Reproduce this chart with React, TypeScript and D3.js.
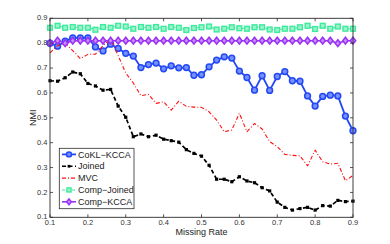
import React, { useEffect, useRef } from "react";
import * as d3 from "d3";

const missingRate = [
  0.1, 0.12, 0.14, 0.16, 0.18, 0.2, 0.22, 0.24, 0.26, 0.28, 0.3, 0.32, 0.34, 0.36,
  0.38, 0.4, 0.42, 0.44, 0.46, 0.48, 0.5, 0.52, 0.54, 0.56, 0.58, 0.6, 0.62, 0.64,
  0.66, 0.68, 0.7, 0.72, 0.74, 0.76, 0.78, 0.8, 0.82, 0.84, 0.86, 0.88, 0.9,
];

const coklKcca = [
  0.8, 0.788, 0.808, 0.821, 0.821, 0.821, 0.785, 0.769, 0.796, 0.779, 0.759, 0.748,
  0.702, 0.714, 0.72, 0.697, 0.709, 0.701, 0.702, 0.671, 0.673, 0.705, 0.732, 0.745,
  0.74, 0.688, 0.662, 0.611, 0.669, 0.61, 0.666, 0.686, 0.649, 0.647, 0.588, 0.547,
  0.586, 0.591, 0.588, 0.507, 0.448,
];

const joined = [
  0.649, 0.647, 0.661, 0.684, 0.677, 0.638, 0.628, 0.611, 0.614, 0.547, 0.502, 0.424,
  0.435, 0.424, 0.43, 0.414, 0.408, 0.402, 0.372, 0.357, 0.346, 0.309, 0.253, 0.253,
  0.243, 0.263, 0.246, 0.239, 0.219, 0.206, 0.161, 0.14, 0.129, 0.135, 0.14, 0.129,
  0.147, 0.145, 0.168, 0.163, 0.165,
];

const mvc = [
  0.761, 0.79, 0.8, 0.77, 0.738, 0.755, 0.756, 0.79, 0.818, 0.75, 0.68, 0.64, 0.589,
  0.594, 0.558, 0.564, 0.531, 0.567, 0.546, 0.543, 0.542, 0.524, 0.491, 0.444, 0.451,
  0.518, 0.444, 0.477, 0.455, 0.404, 0.384, 0.353, 0.349, 0.347, 0.307, 0.37, 0.323,
  0.314, 0.317, 0.247, 0.268,
];

const compJoined = [
  0.862, 0.87, 0.862, 0.865, 0.862, 0.862, 0.854, 0.865, 0.862, 0.87, 0.867, 0.858,
  0.865, 0.862, 0.865, 0.858, 0.865, 0.862, 0.853, 0.861, 0.864, 0.867, 0.855, 0.858,
  0.864, 0.86, 0.858, 0.864, 0.864, 0.855, 0.853, 0.858, 0.858, 0.864, 0.87, 0.857,
  0.87, 0.858, 0.867, 0.858, 0.858,
];

const compKcca = [
  0.8, 0.81, 0.8, 0.81, 0.81, 0.81, 0.81, 0.81, 0.81, 0.81, 0.81, 0.81, 0.81, 0.81,
  0.81, 0.81, 0.81, 0.81, 0.81, 0.81, 0.81, 0.81, 0.81, 0.81, 0.81, 0.81, 0.81, 0.81,
  0.81, 0.81, 0.81, 0.81, 0.81, 0.81, 0.81, 0.81, 0.81, 0.81, 0.8, 0.81, 0.81,
];

const tickValues = [0.1, 0.2, 0.3, 0.4, 0.5, 0.6, 0.7, 0.8, 0.9];

const seriesList = [
  { name: "CoKL\u2212KCCA", values: coklKcca, color: "#2448f5", fill: "#7590ff", width: 1.8, dash: null, marker: "circle" },
  { name: "Joined", values: joined, color: "#000000", fill: "#000", width: 1.7, dash: "4,2.5", marker: "smallsquare" },
  { name: "MVC", values: mvc, color: "#ff1010", fill: "none", width: 1.1, dash: "4,2,1,2", marker: "none" },
  { name: "Comp\u2212Joined", values: compJoined, color: "#3deb9c", fill: "#9af3cb", width: 1.1, dash: "3,2", marker: "square" },
  { name: "Comp\u2212KCCA", values: compKcca, color: "#9b30f5", fill: "#c691fa", width: 1.6, dash: null, marker: "diamond" },
];

function drawMarker(g, s, cx, cy, scale) {
  if (s.marker === "circle") {
    g.append("circle").attr("cx", cx).attr("cy", cy).attr("r", 2.9 * scale)
      .attr("fill", s.fill).attr("stroke", s.color).attr("stroke-width", 1.5);
  } else if (s.marker === "smallsquare") {
    const h = 1.6 * scale;
    g.append("rect").attr("x", cx - h).attr("y", cy - h).attr("width", 2 * h).attr("height", 2 * h)
      .attr("fill", s.color);
  } else if (s.marker === "square") {
    const h = 2.4 * scale;
    g.append("rect").attr("x", cx - h).attr("y", cy - h).attr("width", 2 * h).attr("height", 2 * h)
      .attr("fill", s.fill).attr("stroke", s.color).attr("stroke-width", 1.4);
  } else if (s.marker === "diamond") {
    const r = 3.4 * scale;
    g.append("path")
      .attr("d", `M${cx},${cy - r}L${cx + r * 0.8},${cy}L${cx},${cy + r}L${cx - r * 0.8},${cy}Z`)
      .attr("fill", s.fill).attr("stroke", s.color).attr("stroke-width", 1.5);
  }
}

function NmiChart() {
  const ref = useRef(null);

  useEffect(() => {
    const width = 390, height = 244;
    const left = 50, right = 353, top = 18.3, bottom = 217.3;
    const axisColor = "#2b2b2b";
    const font = "'Liberation Sans', Arial, sans-serif";

    const svg = d3.select(ref.current);
    svg.selectAll("*").remove();
    svg.attr("width", width).attr("height", height);

    const x = d3.scaleLinear().domain([0.1, 0.9]).range([left, right]);
    const y = d3.scaleLinear().domain([0.1, 0.9]).range([bottom, top]);

    svg.append("rect").attr("width", width).attr("height", height).attr("fill", "#fff");

    // series
    const line = d3.line()
      .x((d, i) => x(missingRate[i]))
      .y((d) => y(d));

    seriesList.forEach((s) => {
      const g = svg.append("g");
      g.append("path")
        .attr("d", line(s.values))
        .attr("fill", "none")
        .attr("stroke", s.color)
        .attr("stroke-width", s.width)
        .attr("stroke-dasharray", s.dash)
        .attr("stroke-linejoin", "round");
      s.values.forEach((v, i) => drawMarker(g, s, x(missingRate[i]), y(v), 1));
    });

    // box + ticks
    const ax = svg.append("g");
    ax.append("rect")
      .attr("x", left).attr("y", top)
      .attr("width", right - left).attr("height", bottom - top)
      .attr("fill", "none").attr("stroke", axisColor).attr("stroke-width", 0.9);

    tickValues.forEach((t) => {
      ax.append("line").attr("x1", x(t)).attr("x2", x(t)).attr("y1", bottom).attr("y2", bottom - 3)
        .attr("stroke", axisColor).attr("stroke-width", 0.8);
      ax.append("line").attr("x1", x(t)).attr("x2", x(t)).attr("y1", top).attr("y2", top + 3)
        .attr("stroke", axisColor).attr("stroke-width", 0.8);
      ax.append("line").attr("x1", left).attr("x2", left + 3).attr("y1", y(t)).attr("y2", y(t))
        .attr("stroke", axisColor).attr("stroke-width", 0.8);
      ax.append("line").attr("x1", right).attr("x2", right - 3).attr("y1", y(t)).attr("y2", y(t))
        .attr("stroke", axisColor).attr("stroke-width", 0.8);

      ax.append("text").attr("x", x(t)).attr("y", bottom + 7.6)
        .attr("text-anchor", "middle").attr("font-family", font).attr("font-size", 7.5)
        .attr("fill", "#333").text(d3.format(".1f")(t));
      ax.append("text").attr("x", left - 2.5).attr("y", y(t) - 0.5).attr("dy", "0.35em")
        .attr("text-anchor", "end").attr("font-family", font).attr("font-size", 7.5)
        .attr("fill", "#333").text(d3.format(".1f")(t));
    });

    svg.append("text").attr("x", (left + right) / 2).attr("y", 235)
      .attr("text-anchor", "middle").attr("font-family", font).attr("font-size", 9)
      .attr("fill", "#222").text("Missing Rate");

    svg.append("text")
      .attr("transform", `translate(35.5,${(top + bottom) / 2}) rotate(-90)`)
      .attr("text-anchor", "middle").attr("font-family", font).attr("font-size", 9)
      .attr("fill", "#222").text("NMI");

    // legend
    const lg = svg.append("g");
    lg.append("rect")
      .attr("x", 59.3).attr("y", 148.3).attr("width", 74.7).attr("height", 60.4)
      .attr("fill", "#fff").attr("stroke", axisColor).attr("stroke-width", 0.8);
    seriesList.forEach((s, i) => {
      const ly = 154.4 + i * 11.85;
      lg.append("line").attr("x1", 62).attr("x2", 76).attr("y1", ly).attr("y2", ly)
        .attr("stroke", s.color).attr("stroke-width", s.width).attr("stroke-dasharray", s.dash);
      drawMarker(lg, s, 69, ly, 0.85);
      lg.append("text").attr("x", 78).attr("y", ly).attr("dy", "0.35em")
        .attr("font-family", font).attr("font-size", 9).attr("fill", "#222").text(s.name);
    });
  }, []);

  return <svg ref={ref} style={{ display: "block" }}></svg>;
}

export default function App() {
  return (
    <div style={{ position: "fixed", left: 0, top: 0 }}>
      <NmiChart />
    </div>
  );
}
